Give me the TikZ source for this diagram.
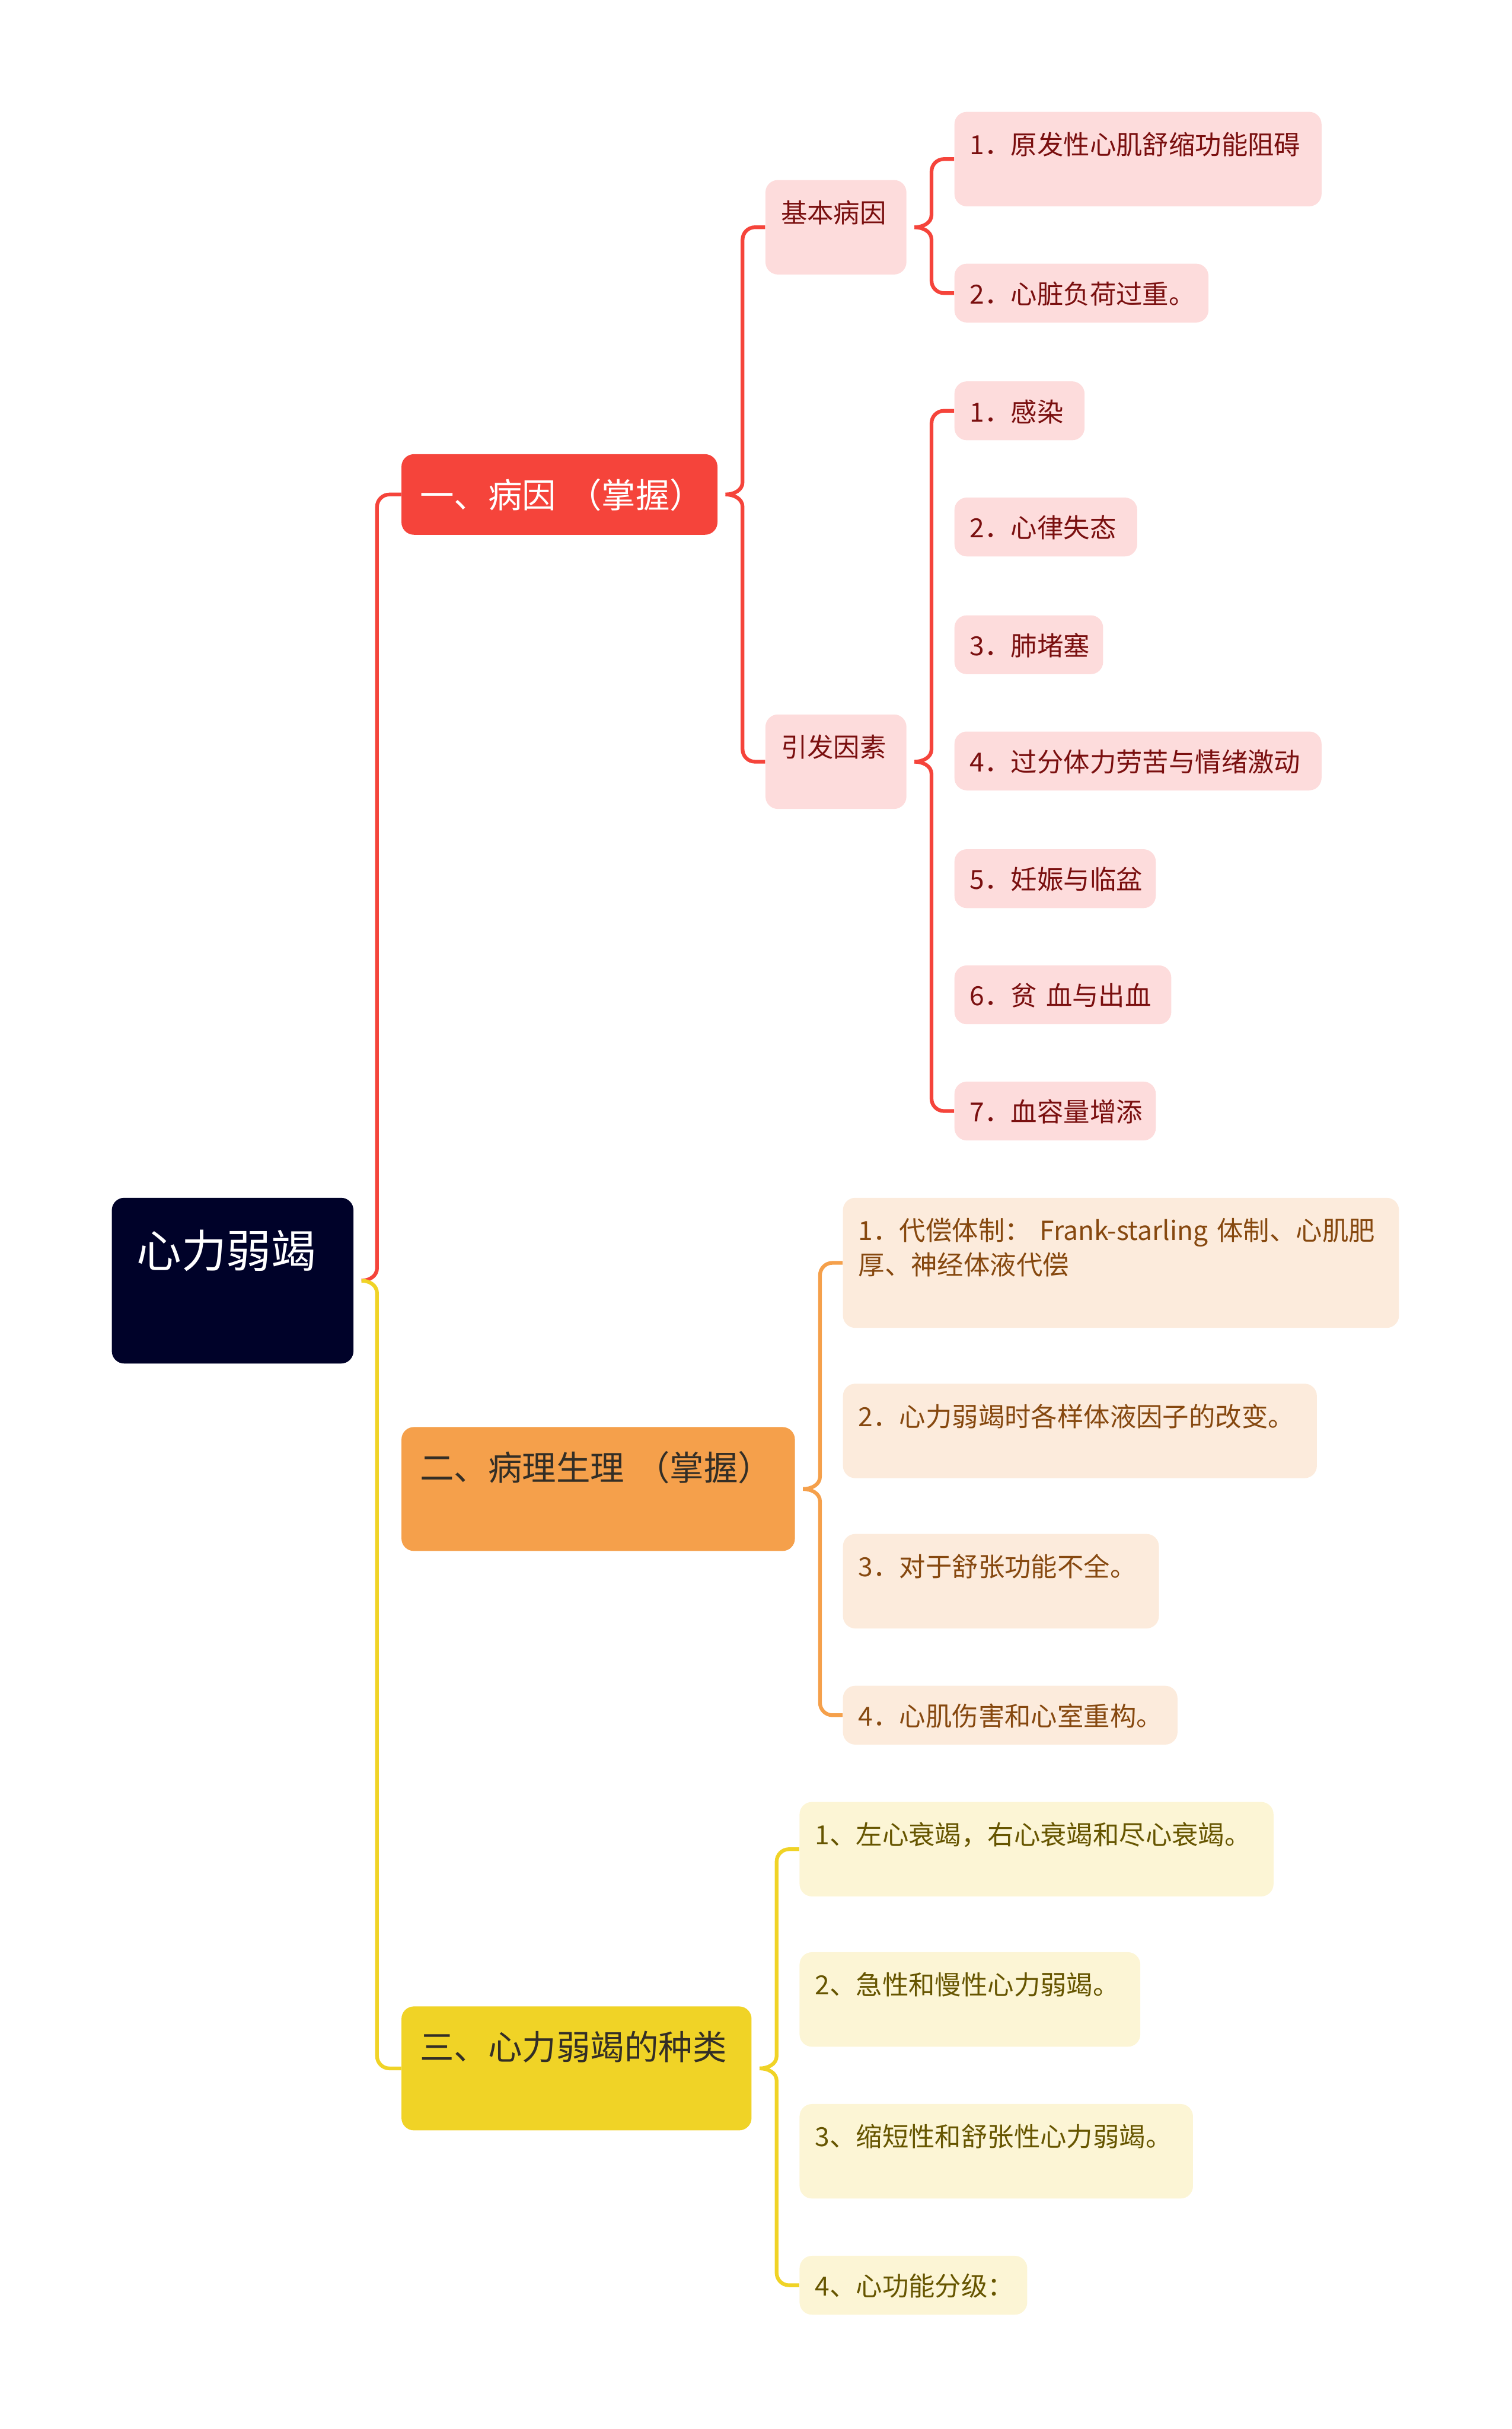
\documentclass[tikz,border=0pt]{standalone}
\usepackage{fontspec}
\setmainfont{Noto Sans CJK SC}
\definecolor{rootbg}{HTML}{000229}
\definecolor{redmain}{HTML}{F5443B}
\definecolor{redsoft}{HTML}{FDDCDC}
\definecolor{redtext}{HTML}{7A0F0F}
\definecolor{orgmain}{HTML}{F5A04B}
\definecolor{orgsoft}{HTML}{FCEBDC}
\definecolor{orgtext}{HTML}{86480F}
\definecolor{yelmain}{HTML}{F0D326}
\definecolor{yelsoft}{HTML}{FCF5D5}
\definecolor{yeltext}{HTML}{665500}
\definecolor{darktext}{HTML}{332E26}

\begin{document}
\begin{tikzpicture}[x=1pt,y=1pt,
  box/.style={anchor=north west,rounded corners=8pt,align=left,
    inner xsep=10pt,inner ysep=0pt},
  topic/.style={box,inner xsep=12pt,font=\fontsize{22}{26}\selectfont,
    text height=34.5pt,text depth=45.5pt},
  leaf/.style={box,font=\fontsize{17}{22}\selectfont},
  lowbox/.style={text height=26pt,text depth=12pt},
  highbox/.style={text height=27.5pt,text depth=33.5pt},
  redleaf/.style={leaf,fill=redsoft,text=redtext},
  orgleaf/.style={leaf,fill=orgsoft,text=orgtext},
  yelleaf/.style={leaf,fill=yelsoft,text=yeltext},
  link/.style={line width=2.4pt},
  redline/.style={link,draw=redmain},
  orgline/.style={link,draw=orgmain},
  yelline/.style={link,draw=yelmain}]
\useasboundingbox (0,0) rectangle (976,-1568);
% root and main topics
\node[box,fill=rootbg,text=white,inner xsep=16pt,font=\fontsize{29}{34}\selectfont,
  text width=124pt,text height=45pt,text depth=62pt] (root) at (72,-773) {心力弱竭};
\node[topic,fill=redmain,text=white,text width=180pt,text depth=17.5pt] (cause) at (259,-293)
  {\mbox{一、病因 （掌握）}};
\node[topic,fill=orgmain,text=darktext,text width=230pt] (patho) at (259,-921)
  {\mbox{二、病理生理 （掌握）}};
\node[topic,fill=yelmain,text=darktext,text width=202pt] (kinds) at (259,-1295)
  {三、心力弱竭的种类};
% causes
\node[redleaf,highbox,text width=71pt] (basic) at (494,-116) {基本病因};
\node[redleaf,highbox,text width=71pt] (trigger) at (494,-461) {引发因素};
\node[redleaf,highbox,text width=217pt] (basic1) at (616,-72) {1．原发性心肌舒缩功能阻碍};
\node[redleaf,lowbox,text width=144pt] (basic2) at (616,-170) {2．心脏负荷过重。};
\node[redleaf,lowbox,text width=64pt] (trig1) at (616,-246) {1．感染};
\node[redleaf,lowbox,text width=98pt] (trig2) at (616,-321) {2．心律失态};
\node[redleaf,lowbox,text width=76pt] (trig3) at (616,-397) {3．肺堵塞};
\node[redleaf,lowbox,text width=217pt] (trig4) at (616,-472) {4．过分体力劳苦与情绪激动};
\node[redleaf,lowbox,text width=110pt] (trig5) at (616,-548) {5．妊娠与临盆};
\node[redleaf,lowbox,text width=120pt] (trig6) at (616,-623) {\mbox{6．贫 血与出血}};
\node[redleaf,lowbox,text width=110pt] (trig7) at (616,-698) {7．血容量增添};
% pathophysiology
\node[orgleaf,text width=339pt,text height=27.5pt,text depth=56.5pt] (patho1) at (544,-773)
  {1．代偿体制： Frank-starling 体制、心肌肥\\厚、神经体液代偿};
\node[orgleaf,highbox,text width=286pt] (patho2) at (544,-893) {2．心力弱竭时各样体液因子的改变。};
\node[orgleaf,highbox,text width=184pt] (patho3) at (544,-990) {3．对于舒张功能不全。};
\node[orgleaf,lowbox,text width=196pt] (patho4) at (544,-1088) {4．心肌伤害和心室重构。};
% kinds
\node[yelleaf,highbox,text width=286pt] (kind1) at (516,-1163) {1、左心衰竭，右心衰竭和尽心衰竭。};
\node[yelleaf,highbox,text width=200pt] (kind2) at (516,-1260) {2、急性和慢性心力弱竭。};
\node[yelleaf,highbox,text width=234pt] (kind3) at (516,-1358) {3、缩短性和舒张性心力弱竭。};
\node[yelleaf,lowbox,text width=127pt] (kind4) at (516,-1456) {4、心功能分级：};
% brace tips
\coordinate (root-tip) at ([xshift=5pt]root.east);
\coordinate (cause-tip) at ([xshift=5pt]cause.east);
\coordinate (patho-tip) at ([xshift=5pt]patho.east);
\coordinate (kinds-tip) at ([xshift=5pt]kinds.east);
\coordinate (basic-tip) at ([xshift=5pt]basic.east);
\coordinate (trigger-tip) at ([xshift=5pt]trigger.east);
% connectors
\draw[redline] (root-tip) to[out=0,in=-90] ++(10,8) [rounded corners=8pt] |- (cause.west);
\draw[yelline] (root-tip) to[out=0,in=90] ++(10,-8) [rounded corners=8pt] |- (kinds.west);
\draw[redline] (cause-tip) to[out=0,in=-90] ++(11,8) [rounded corners=8pt] |- (basic.west);
\draw[redline] (cause-tip) to[out=0,in=90] ++(11,-8) [rounded corners=8pt] |- (trigger.west);
\draw[redline] (basic-tip) to[out=0,in=-90] ++(11,8) [rounded corners=8pt] |- (basic1.west);
\draw[redline] (basic-tip) to[out=0,in=90] ++(11,-8) [rounded corners=8pt] |- (basic2.west);
\draw[redline] (trigger-tip) to[out=0,in=-90] ++(11,8) [rounded corners=8pt] |- (trig1.west);
\draw[redline] (trigger-tip) to[out=0,in=90] ++(11,-8) [rounded corners=8pt] |- (trig7.west);
\draw[orgline] (patho-tip) to[out=0,in=-90] ++(11,8) [rounded corners=8pt] |- (patho1.west);
\draw[orgline] (patho-tip) to[out=0,in=90] ++(11,-8) [rounded corners=8pt] |- (patho4.west);
\draw[yelline] (kinds-tip) to[out=0,in=-90] ++(11,8) [rounded corners=8pt] |- (kind1.west);
\draw[yelline] (kinds-tip) to[out=0,in=90] ++(11,-8) [rounded corners=8pt] |- (kind4.west);
\end{tikzpicture}
\end{document}
